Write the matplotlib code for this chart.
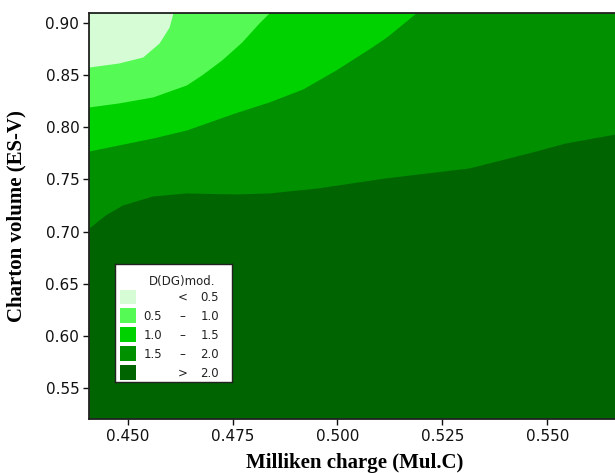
import matplotlib

matplotlib.use("Agg")
import matplotlib.pyplot as plt
from matplotlib.patches import Rectangle

# contour boundaries (x = Milliken charge, y = Charton volume)
b05_x = [0.4408, 0.4478, 0.4536, 0.4575, 0.4599, 0.4608]
b05_y = [0.8578, 0.8616, 0.8674, 0.8808, 0.8962, 0.9096]

b10_x = [0.4408, 0.4478, 0.4560, 0.4640, 0.4676, 0.4724, 0.4772, 0.4813, 0.4837]
b10_y = [0.8195, 0.8233, 0.8291, 0.8406, 0.8501, 0.8645, 0.8818, 0.9000, 0.9096]

b15_x = [0.4408, 0.4478, 0.4560, 0.4640, 0.4755, 0.4837, 0.4917, 0.4996, 0.5078, 0.5117, 0.5187]
b15_y = [0.7773, 0.7830, 0.7897, 0.7974, 0.8137, 0.8243, 0.8367, 0.8549, 0.8760, 0.8866, 0.9096]

b20_x = [0.4408, 0.4447, 0.4488, 0.4560, 0.4640, 0.4755, 0.4837, 0.4953, 0.5114, 0.5314, 0.5464, 0.5543, 0.5676]
b20_y = [0.7034, 0.7159, 0.7255, 0.7341, 0.7370, 0.7360, 0.7370, 0.7418, 0.7514, 0.7610, 0.7763, 0.7849, 0.7945]

level_lo = ["", "0.5", "1.0", "1.5", ""]
level_sep = ["<", "\u2013", "\u2013", "\u2013", ">"]
level_hi = ["0.5", "1.0", "1.5", "2.0", "2.0"]
colors = ["#d5fcd5", "#55fa55", "#00d200", "#009000", "#006400"]

x_ticks = [0.450, 0.475, 0.500, 0.525, 0.550]
y_ticks = [0.55, 0.60, 0.65, 0.70, 0.75, 0.80, 0.85, 0.90]
xlim = (0.4408, 0.5676)
ylim = (0.5202, 0.9096)

fig = plt.figure(figsize=(6.15, 4.73), dpi=100)
ax = fig.add_axes([0.1447, 0.1142, 0.8553 + 0.01, 0.8583])
ax.set_facecolor(colors[4])

# paint bands from darkest up; each boundary runs to the top edge
top = ylim[1]
for bx, by, c in [(b20_x, b20_y, colors[3]), (b15_x, b15_y, colors[2]),
                  (b10_x, b10_y, colors[1]), (b05_x, b05_y, colors[0])]:
    ax.fill_between(bx, by, top, color=c, linewidth=0)

ax.set_xlim(*xlim)
ax.set_ylim(*ylim)
ax.set_xticks(x_ticks)
ax.set_xticklabels([f"{v:.3f}" for v in x_ticks])
ax.set_yticks(y_ticks)
ax.set_yticklabels([f"{v:.2f}" for v in y_ticks])
ax.tick_params(direction="out", length=4, width=1, labelsize=11, colors="#111111", pad=3)
for side in ["left", "top", "bottom"]:
    ax.spines[side].set_linewidth(1.3)
    ax.spines[side].set_color("#222222")
ax.spines["right"].set_visible(False)

ax.set_xlabel("Milliken charge (Mul.C)", family="Liberation Serif", weight="bold", fontsize=15)
ax.set_ylabel("Charton volume (ES-V)", family="Liberation Serif", weight="bold", fontsize=15)
ax.xaxis.set_label_coords(0.5, -0.085)
ax.yaxis.set_label_coords(-0.118, 0.5)

# legend box drawn by hand
lg = ax.inset_axes([0.0494, 0.0911, 0.2186, 0.2906])
lg.set_xlim(0, 1)
lg.set_ylim(0, 1)
lg.set_xticks([])
lg.set_yticks([])
lg.set_facecolor("white")
for s in lg.spines.values():
    s.set_linewidth(1)
    s.set_color("#222222")
fs = 8.5
lg.text(0.574, 0.856, "D(DG)mod.", ha="center", va="center", fontsize=fs, color="#222222")
row_y = [0.720, 0.559, 0.398, 0.237, 0.076]
for i, ry in enumerate(row_y):
    lg.add_patch(Rectangle((0.043, ry - 0.063), 0.139, 0.127, facecolor=colors[i], edgecolor="none"))
    lg.text(0.40, ry, level_lo[i], ha="right", va="center", fontsize=fs, color="#222222")
    lg.text(0.58, ry, level_sep[i], ha="center", va="center", fontsize=fs, color="#222222")
    lg.text(0.89, ry, level_hi[i], ha="right", va="center", fontsize=fs, color="#222222")

fig.savefig("out.png", dpi=100)
